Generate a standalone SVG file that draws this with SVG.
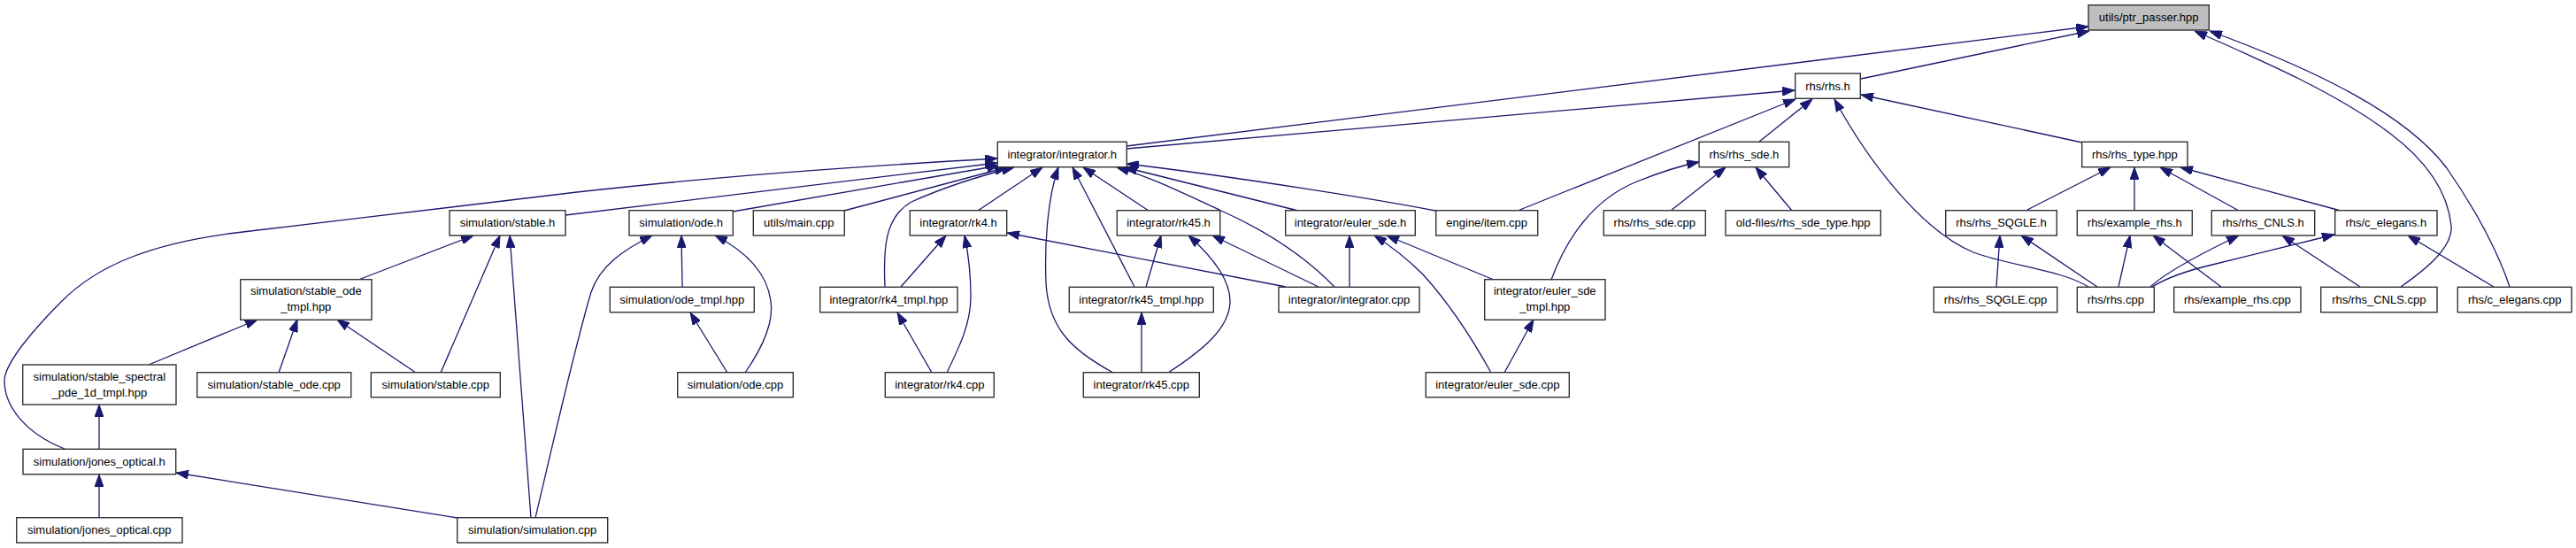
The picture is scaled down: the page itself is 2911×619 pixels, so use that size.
<svg xmlns="http://www.w3.org/2000/svg" width="2911" height="619" viewBox="0 0 2911 619">
<style>
.n rect{fill:#ffffff;stroke:#333333;stroke-width:1.4}
.n text{font-family:"Liberation Sans",Arial,Helvetica,sans-serif;font-size:13px;fill:#000000;text-anchor:middle}
#edges path{fill:none;stroke:#191970;stroke-width:1.3;marker-end:url(#ah)}
</style>
<defs>
<marker id="ah" markerUnits="userSpaceOnUse" markerWidth="14" markerHeight="10" refX="14" refY="5" orient="auto">
<path d="M0,0 L14,5 L0,10 Z" fill="#191970" stroke="#191970" stroke-width="1"/>
</marker>
</defs>
<rect width="2911" height="619" fill="#ffffff"/>
<g id="edges">
<path d="M1273,165 L2360,30"/>
<path d="M1273,168 L2028,102"/>
<path d="M2103,89 L2361,35"/>
<path d="M2713,324 C2740,305 2772,280 2770,255 C2766,215 2740,180 2700,150 C2640,105 2560,70 2480,35"/>
<path d="M2836,324 C2825,290 2800,240 2765,190 C2720,130 2620,80 2497,35"/>
<path d="M1715,238 L2029,112"/>
<path d="M1988,160 L2048,112"/>
<path d="M2353,161 L2103,107"/>
<path d="M2360,324 C2330,305 2270,300 2230,285 C2170,260 2110,180 2073,112"/>
<path d="M639,243 L1127,184"/>
<path d="M828,239 L1129,187"/>
<path d="M954,238 L1138,189"/>
<path d="M73,507 C30,490 5,460 5,430 C5,410 40,370 70,340 C110,300 170,275 266,263 C400,248 500,234 652,217 C780,203 900,192 1127,179"/>
<path d="M1000,324 C998,280 1000,245 1030,228 C1070,210 1110,198 1146,189"/>
<path d="M1105,238 L1178,189"/>
<path d="M1258,421 C1210,395 1185,370 1182,320 C1180,270 1185,220 1196,189"/>
<path d="M1282,324 L1212,189"/>
<path d="M1298,238 L1224,189"/>
<path d="M1508,324 C1480,295 1440,265 1380,238 C1330,215 1300,200 1262,189"/>
<path d="M1467,238 L1271,189"/>
<path d="M1622,238 C1560,226 1400,200 1273,185"/>
<path d="M405,316 L535,266"/>
<path d="M498,421 L565,266"/>
<path d="M600,585 L576,266"/>
<path d="M168,412 L291,361"/>
<path d="M315,421 L336,361"/>
<path d="M470,421 L381,361"/>
<path d="M112,507 L112,457"/>
<path d="M112,585 L112,536"/>
<path d="M517,585 L199,534"/>
<path d="M605,585 C625,500 650,390 668,330 C678,300 705,282 737,266"/>
<path d="M771,324 L770,266"/>
<path d="M842,421 C860,395 875,365 871,340 C867,310 845,285 808,266"/>
<path d="M822,421 L780,353"/>
<path d="M1018,324 L1069,266"/>
<path d="M1070,421 C1085,390 1097,365 1097,335 C1097,310 1095,290 1090,266"/>
<path d="M1053,421 L1014,353"/>
<path d="M1453,324 L1138,263"/>
<path d="M1295,324 L1312,266"/>
<path d="M1320,421 C1360,395 1390,370 1390,340 C1390,315 1370,290 1343,266"/>
<path d="M1490,324 L1370,266"/>
<path d="M1290,421 L1290,353"/>
<path d="M1525,324 L1525,266"/>
<path d="M1685,421 C1665,385 1640,345 1608,310 C1590,292 1575,280 1553,266"/>
<path d="M1688,316 L1567,266"/>
<path d="M1700,421 L1733,361"/>
<path d="M1753,316 C1770,270 1800,225 1850,205 C1875,195 1895,188 1920,183"/>
<path d="M1888,238 L1950,189"/>
<path d="M2025,238 L1984,189"/>
<path d="M2289,238 L2385,189"/>
<path d="M2412,238 L2412,189"/>
<path d="M2530,238 L2441,189"/>
<path d="M2645,238 L2464,189"/>
<path d="M2256,324 L2260,266"/>
<path d="M2370,324 L2284,266"/>
<path d="M2394,324 L2407,266"/>
<path d="M2510,324 L2433,266"/>
<path d="M2430,324 C2445,310 2480,290 2530,266"/>
<path d="M2432,324 C2450,313 2470,306 2500,299 C2560,284 2600,274 2638,265"/>
<path d="M2667,324 L2579,266"/>
<path d="M2818,324 L2721,266"/>
</g>
<g id="ptr_passer" class="n"><rect x="2360" y="5.7" width="136.3" height="28.3" style="fill:#bfbfbf"/><text x="2428.2" y="24.4">utils/ptr_passer.hpp</text></g>
<g id="rhs_h" class="n"><rect x="2028.7" y="83" width="73.6" height="28.3"/><text x="2065.5" y="101.6">rhs/rhs.h</text></g>
<g id="integrator_h" class="n"><rect x="1127.3" y="160.3" width="146" height="28.4"/><text x="1200.3" y="179">integrator/integrator.h</text></g>
<g id="rhs_sde_h" class="n"><rect x="1920" y="160.3" width="101.7" height="28.4"/><text x="1970.9" y="179">rhs/rhs_sde.h</text></g>
<g id="rhs_type_hpp" class="n"><rect x="2352.7" y="160.3" width="119.3" height="28.4"/><text x="2412.3" y="179">rhs/rhs_type.hpp</text></g>
<g id="stable_h" class="n"><rect x="508" y="237.7" width="131" height="28.3"/><text x="573.5" y="256.3">simulation/stable.h</text></g>
<g id="ode_h" class="n"><rect x="711" y="237.7" width="117.3" height="28.3"/><text x="769.7" y="256.3">simulation/ode.h</text></g>
<g id="main_cpp" class="n"><rect x="851.3" y="237.7" width="103" height="28.3"/><text x="902.8" y="256.3">utils/main.cpp</text></g>
<g id="rk4_h" class="n"><rect x="1028.3" y="237.7" width="109.4" height="28.3"/><text x="1083" y="256.3">integrator/rk4.h</text></g>
<g id="rk45_h" class="n"><rect x="1262.3" y="237.7" width="116.4" height="28.3"/><text x="1320.5" y="256.3">integrator/rk45.h</text></g>
<g id="euler_sde_h" class="n"><rect x="1452.7" y="237.7" width="146.6" height="28.3"/><text x="1526" y="256.3">integrator/euler_sde.h</text></g>
<g id="item_cpp" class="n"><rect x="1622.7" y="237.7" width="115" height="28.3"/><text x="1680.2" y="256.3">engine/item.cpp</text></g>
<g id="rhs_sde_cpp" class="n"><rect x="1812.3" y="237.7" width="115" height="28.3"/><text x="1869.8" y="256.3">rhs/rhs_sde.cpp</text></g>
<g id="rhs_sde_type_hpp" class="n"><rect x="1950" y="237.7" width="175.3" height="28.3"/><text x="2037.7" y="256.3">old-files/rhs_sde_type.hpp</text></g>
<g id="rhs_SQGLE_h" class="n"><rect x="2198.7" y="237.7" width="125.6" height="28.3"/><text x="2261.5" y="256.3">rhs/rhs_SQGLE.h</text></g>
<g id="example_rhs_h" class="n"><rect x="2347.3" y="237.7" width="130" height="28.3"/><text x="2412.3" y="256.3">rhs/example_rhs.h</text></g>
<g id="rhs_CNLS_h" class="n"><rect x="2499.3" y="237.7" width="116.4" height="28.3"/><text x="2557.5" y="256.3">rhs/rhs_CNLS.h</text></g>
<g id="c_elegans_h" class="n"><rect x="2638.7" y="237.7" width="115.3" height="28.3"/><text x="2696.3" y="256.3">rhs/c_elegans.h</text></g>
<g id="stable_ode_tmpl_hpp" class="n"><rect x="271.7" y="315.7" width="148.3" height="45.6"/><text x="345.8" y="333.3">simulation/stable_ode</text><text x="345.8" y="351.3">_tmpl.hpp</text></g>
<g id="ode_tmpl_hpp" class="n"><rect x="689.3" y="324.3" width="163" height="28.4"/><text x="770.8" y="343">simulation/ode_tmpl.hpp</text></g>
<g id="rk4_tmpl_hpp" class="n"><rect x="926.7" y="324.3" width="155.3" height="28.4"/><text x="1004.3" y="343">integrator/rk4_tmpl.hpp</text></g>
<g id="rk45_tmpl_hpp" class="n"><rect x="1208.3" y="324.3" width="163" height="28.4"/><text x="1289.8" y="343">integrator/rk45_tmpl.hpp</text></g>
<g id="integrator_cpp" class="n"><rect x="1445" y="324.3" width="159" height="28.4"/><text x="1524.5" y="343">integrator/integrator.cpp</text></g>
<g id="euler_sde_tmpl_hpp" class="n"><rect x="1677.7" y="315.7" width="136.3" height="45.6"/><text x="1745.8" y="333.3">integrator/euler_sde</text><text x="1745.8" y="351.3">_tmpl.hpp</text></g>
<g id="rhs_SQGLE_cpp" class="n"><rect x="2185.3" y="324.3" width="139.4" height="28.4"/><text x="2255" y="343">rhs/rhs_SQGLE.cpp</text></g>
<g id="rhs_cpp" class="n"><rect x="2347.3" y="324.3" width="87" height="28.4"/><text x="2390.8" y="343">rhs/rhs.cpp</text></g>
<g id="example_rhs_cpp" class="n"><rect x="2456.7" y="324.3" width="143.3" height="28.4"/><text x="2528.3" y="343">rhs/example_rhs.cpp</text></g>
<g id="rhs_CNLS_cpp" class="n"><rect x="2622.7" y="324.3" width="131.3" height="28.4"/><text x="2688.3" y="343">rhs/rhs_CNLS.cpp</text></g>
<g id="c_elegans_cpp" class="n"><rect x="2777.3" y="324.3" width="128.7" height="28.4"/><text x="2841.7" y="343">rhs/c_elegans.cpp</text></g>
<g id="stable_spectral_pde_1d_tmpl_hpp" class="n"><rect x="25.7" y="412" width="173.3" height="45"/><text x="112.3" y="429.5">simulation/stable_spectral</text><text x="112.3" y="447.5">_pde_1d_tmpl.hpp</text></g>
<g id="stable_ode_cpp" class="n"><rect x="222.7" y="420.7" width="174" height="28"/><text x="309.7" y="439.2">simulation/stable_ode.cpp</text></g>
<g id="stable_cpp" class="n"><rect x="419.3" y="420.7" width="146" height="28"/><text x="492.3" y="439.2">simulation/stable.cpp</text></g>
<g id="ode_cpp" class="n"><rect x="765.7" y="420.7" width="130.6" height="28"/><text x="831" y="439.2">simulation/ode.cpp</text></g>
<g id="rk4_cpp" class="n"><rect x="1000.3" y="420.7" width="123" height="28"/><text x="1061.8" y="439.2">integrator/rk4.cpp</text></g>
<g id="rk45_cpp" class="n"><rect x="1224.3" y="420.7" width="131" height="28"/><text x="1289.8" y="439.2">integrator/rk45.cpp</text></g>
<g id="euler_sde_cpp" class="n"><rect x="1611.3" y="420.7" width="162" height="28"/><text x="1692.3" y="439.2">integrator/euler_sde.cpp</text></g>
<g id="jones_optical_h" class="n"><rect x="26" y="507.3" width="172.7" height="28.4"/><text x="112.3" y="526">simulation/jones_optical.h</text></g>
<g id="jones_optical_cpp" class="n"><rect x="18.7" y="584.7" width="187.3" height="28.3"/><text x="112.3" y="603.3">simulation/jones_optical.cpp</text></g>
<g id="simulation_cpp" class="n"><rect x="516.7" y="584.7" width="170" height="28.3"/><text x="601.7" y="603.3">simulation/simulation.cpp</text></g>
</svg>
